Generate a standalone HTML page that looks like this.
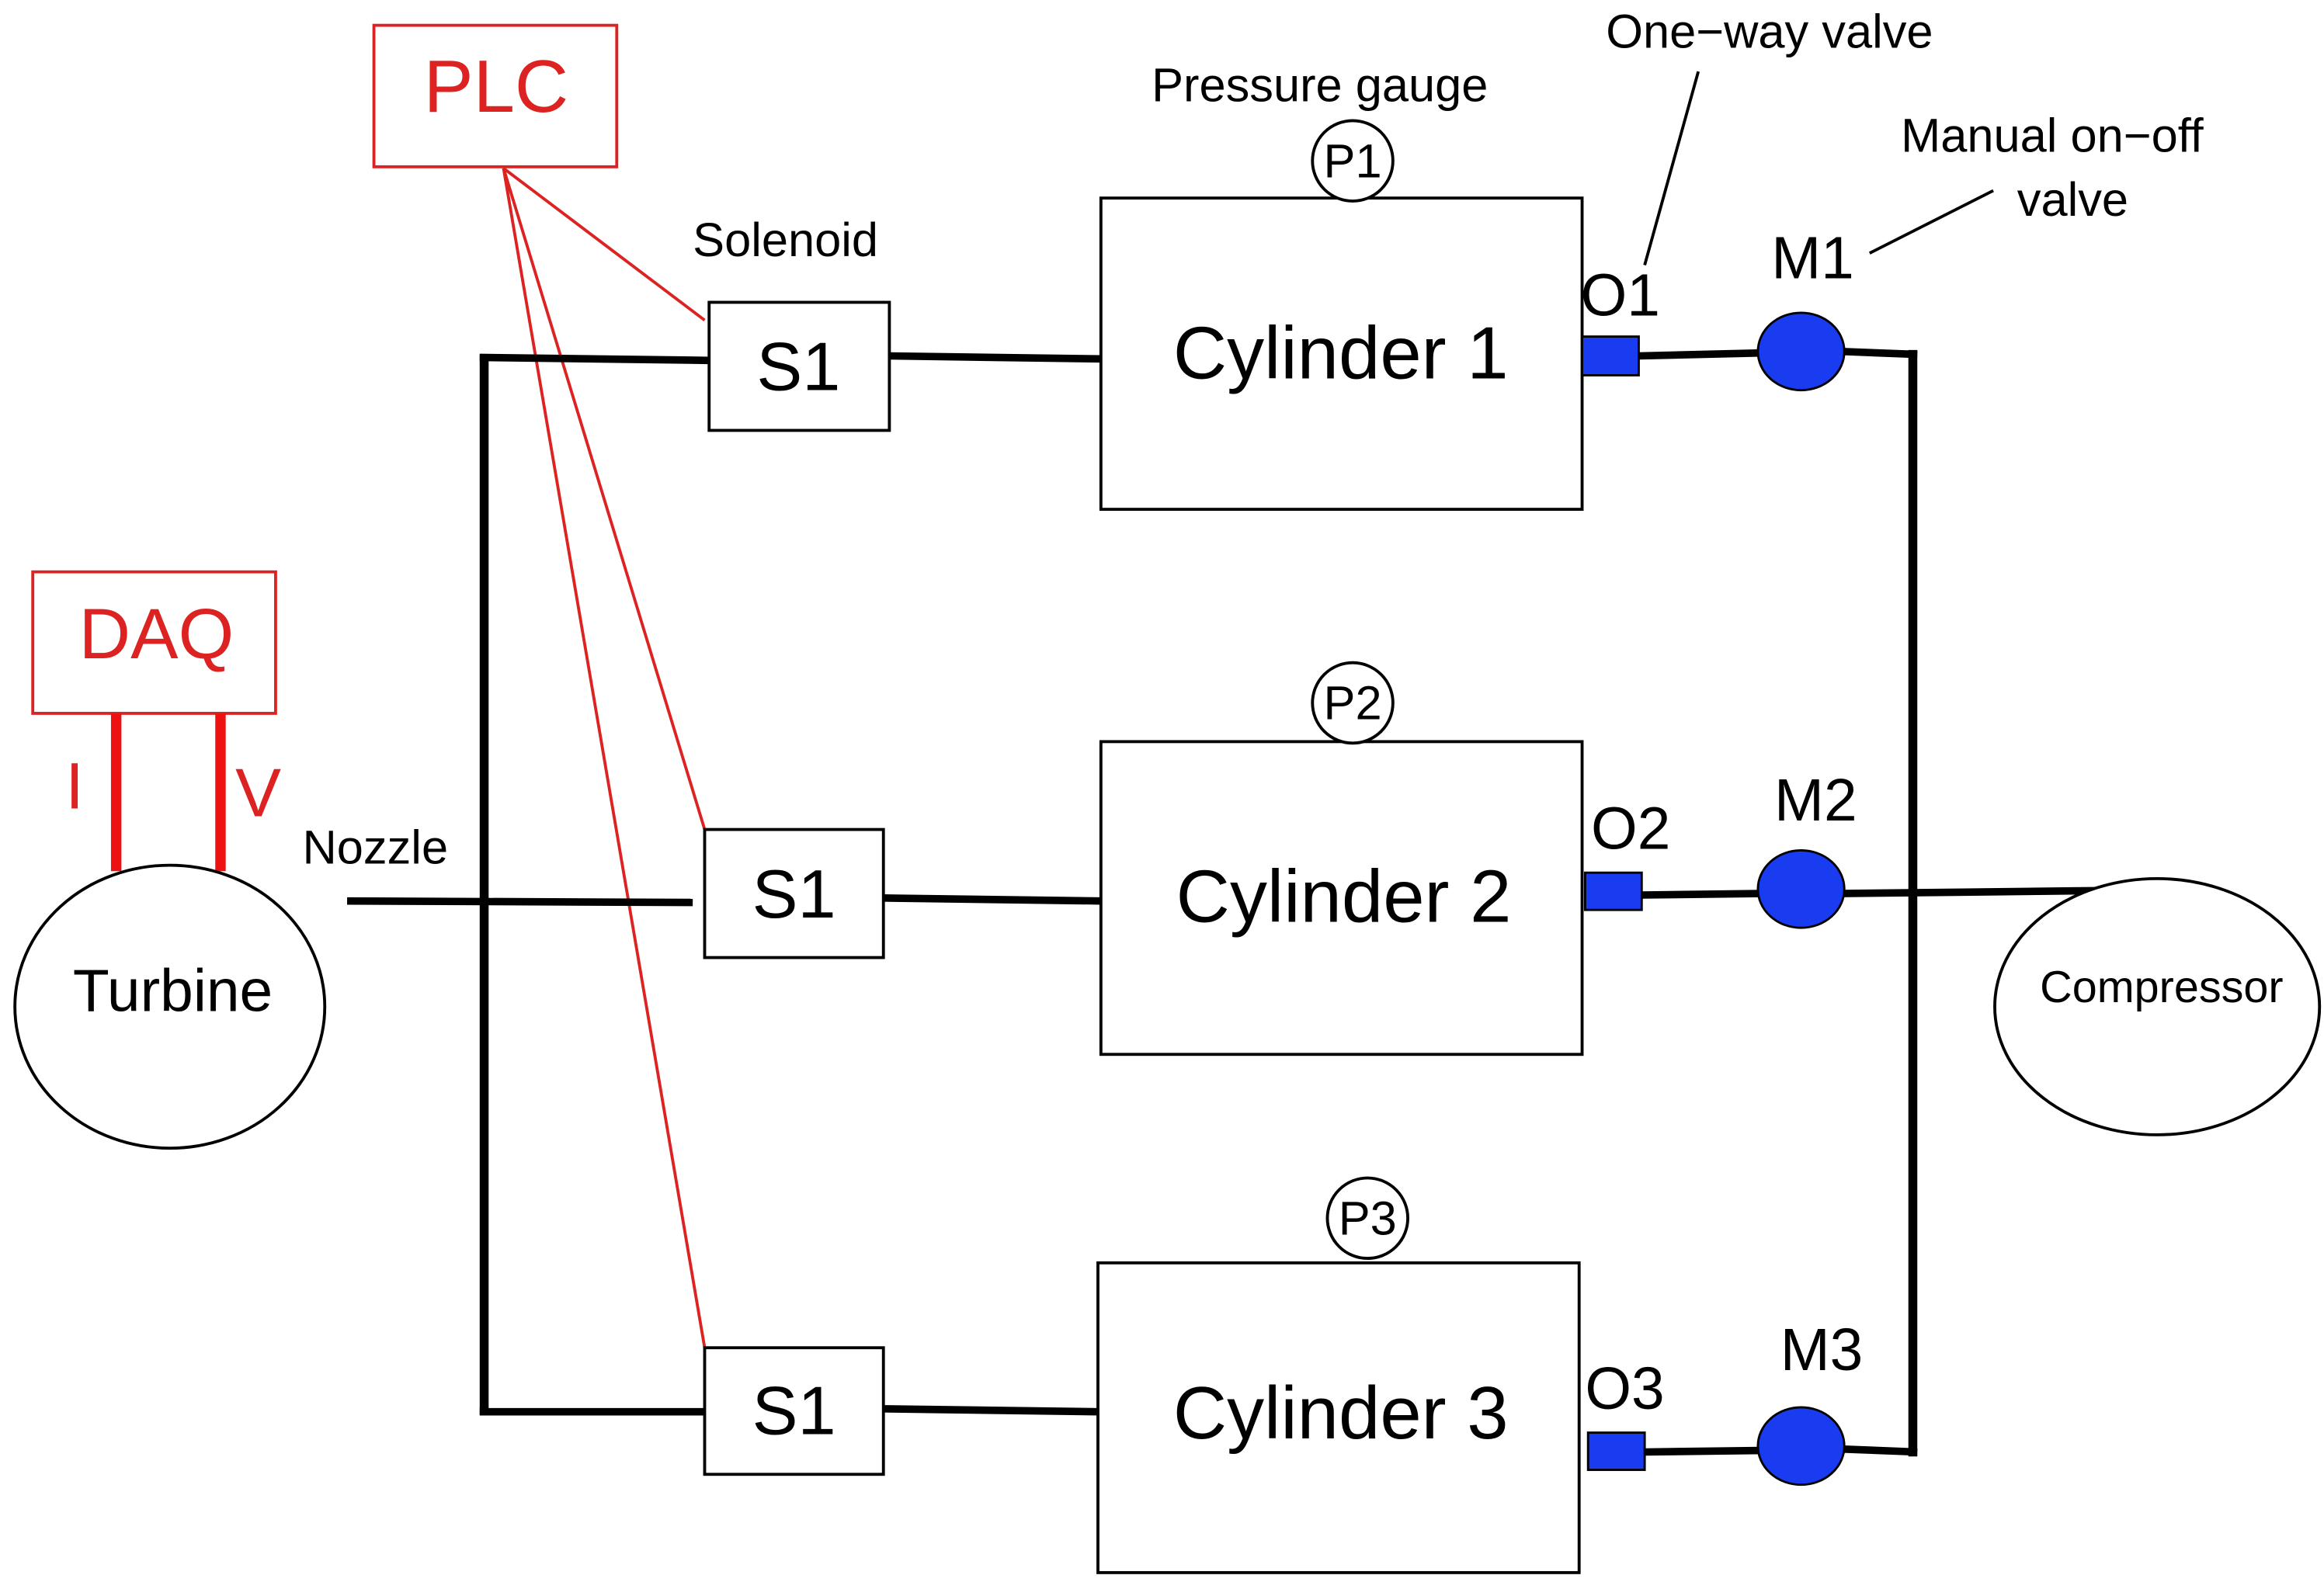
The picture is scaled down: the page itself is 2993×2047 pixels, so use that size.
<!DOCTYPE html>
<html><head><meta charset="utf-8"><style>
html,body{margin:0;padding:0;background:#fff;}
svg{display:block;}
text{font-family:"Liberation Sans",Arial,sans-serif;}
</style></head><body>
<svg width="2993" height="2047" viewBox="0 0 1560 1067" preserveAspectRatio="none" xmlns="http://www.w3.org/2000/svg">
<rect width="1560" height="1067" fill="#fff"/>
<!-- PLC -->
<rect x="251" y="17" width="163" height="95" fill="none" stroke="#d22" stroke-width="2"/>
<text x="333" y="75" font-size="50" fill="#d22" text-anchor="middle">PLC</text>
<g stroke="#d22" stroke-width="2">
<line x1="338" y1="113" x2="473" y2="215"/>
<line x1="338" y1="113" x2="473" y2="557"/>
<line x1="338" y1="113" x2="473" y2="905"/>
</g>
<!-- DAQ -->
<rect x="22" y="384" width="163" height="95" fill="none" stroke="#d22" stroke-width="2"/>
<text x="105" y="442" font-size="48" fill="#d22" text-anchor="middle">DAQ</text>
<line x1="78" y1="479" x2="78" y2="585" stroke="#e11" stroke-width="7"/>
<line x1="148" y1="479" x2="148" y2="585" stroke="#e11" stroke-width="7"/>
<text x="44" y="543" font-size="44" fill="#d22">I</text>
<text x="158" y="548" font-size="46" fill="#d22">V</text>
<!-- Turbine -->
<ellipse cx="114" cy="676" rx="104" ry="95" fill="#fff" stroke="#000" stroke-width="2"/>
<text x="116" y="679" font-size="40" text-anchor="middle">Turbine</text>
<text x="203" y="580" font-size="32">Nozzle</text>
<!-- black piping -->
<g stroke="#000" stroke-width="5" fill="none">
<line x1="233" y1="605" x2="465" y2="606"/>
<line x1="325" y1="238" x2="325" y2="950" stroke-width="6"/>
<line x1="322" y1="240" x2="476" y2="242"/>
<line x1="322" y1="948" x2="473" y2="948"/>
<line x1="597" y1="239" x2="739" y2="241"/>
<line x1="593" y1="603" x2="739" y2="605"/>
<line x1="593" y1="946" x2="738" y2="948"/>
<line x1="1100" y1="239" x2="1182" y2="237"/>
<line x1="1102" y1="601" x2="1182" y2="600"/>
<line x1="1104" y1="975" x2="1182" y2="974"/>
<line x1="1284" y1="235" x2="1284" y2="978" stroke-width="6"/>
<line x1="1236" y1="236" x2="1287" y2="238"/>
<line x1="1236" y1="973" x2="1287" y2="975"/>
<line x1="1236" y1="600" x2="1412" y2="598"/>
</g>
<!-- S1 boxes -->
<g fill="#fff" stroke="#000" stroke-width="2">
<rect x="476" y="203" width="121" height="86"/>
<rect x="473" y="557" width="120" height="86"/>
<rect x="473" y="905" width="120" height="85"/>
</g>
<g font-size="46" text-anchor="middle">
<text x="536" y="262">S1</text>
<text x="533" y="616">S1</text>
<text x="533" y="963">S1</text>
</g>
<text x="465" y="172" font-size="32">Solenoid</text>
<!-- Cylinders -->
<g fill="#fff" stroke="#000" stroke-width="2">
<rect x="739" y="133" width="323" height="209"/>
<rect x="739" y="498" width="323" height="210"/>
<rect x="737" y="848" width="323" height="208"/>
</g>
<g font-size="50" text-anchor="middle">
<text x="900" y="254">Cylinder 1</text>
<text x="902" y="619">Cylinder 2</text>
<text x="900" y="966">Cylinder 3</text>
</g>
<!-- Pressure gauges -->
<g fill="#fff" stroke="#000" stroke-width="2">
<circle cx="908" cy="108" r="27"/>
<circle cx="908" cy="472" r="27"/>
<circle cx="918" cy="818" r="27"/>
</g>
<g font-size="32" text-anchor="middle">
<text x="908" y="119">P1</text>
<text x="908" y="483">P2</text>
<text x="918" y="829">P3</text>
</g>
<text x="773" y="68" font-size="32">Pressure gauge</text>
<!-- One-way valves -->
<g fill="#1a3cf0" stroke="#000" stroke-width="1.5">
<rect x="1062" y="226" width="38" height="26"/>
<rect x="1064" y="586" width="38" height="25"/>
<rect x="1066" y="962" width="38" height="25"/>
</g>
<g font-size="40">
<text x="1061" y="212">O1</text>
<text x="1068" y="570">O2</text>
<text x="1064" y="946">O3</text>
</g>
<!-- Manual valves -->
<g fill="#1a3cf0" stroke="#000" stroke-width="1.5">
<ellipse cx="1209" cy="236" rx="29" ry="26"/>
<ellipse cx="1209" cy="597" rx="29" ry="26"/>
<ellipse cx="1209" cy="971" rx="29" ry="26"/>
</g>
<g font-size="40">
<text x="1189" y="187">M1</text>
<text x="1191" y="551">M2</text>
<text x="1195" y="920">M3</text>
</g>
<!-- Compressor -->
<ellipse cx="1448" cy="676" rx="109" ry="86" fill="#fff" stroke="#000" stroke-width="2"/>
<text x="1451" y="673" font-size="30" text-anchor="middle">Compressor</text>
<!-- annotations -->
<text x="1078" y="32" font-size="32">One−way valve</text>
<line x1="1140" y1="48" x2="1104" y2="178" stroke="#000" stroke-width="2"/>
<text x="1276" y="102" font-size="32">Manual on−off</text>
<text x="1354" y="145" font-size="32">valve</text>
<line x1="1338" y1="128" x2="1255" y2="170" stroke="#000" stroke-width="2"/>
</svg>
</body></html>
